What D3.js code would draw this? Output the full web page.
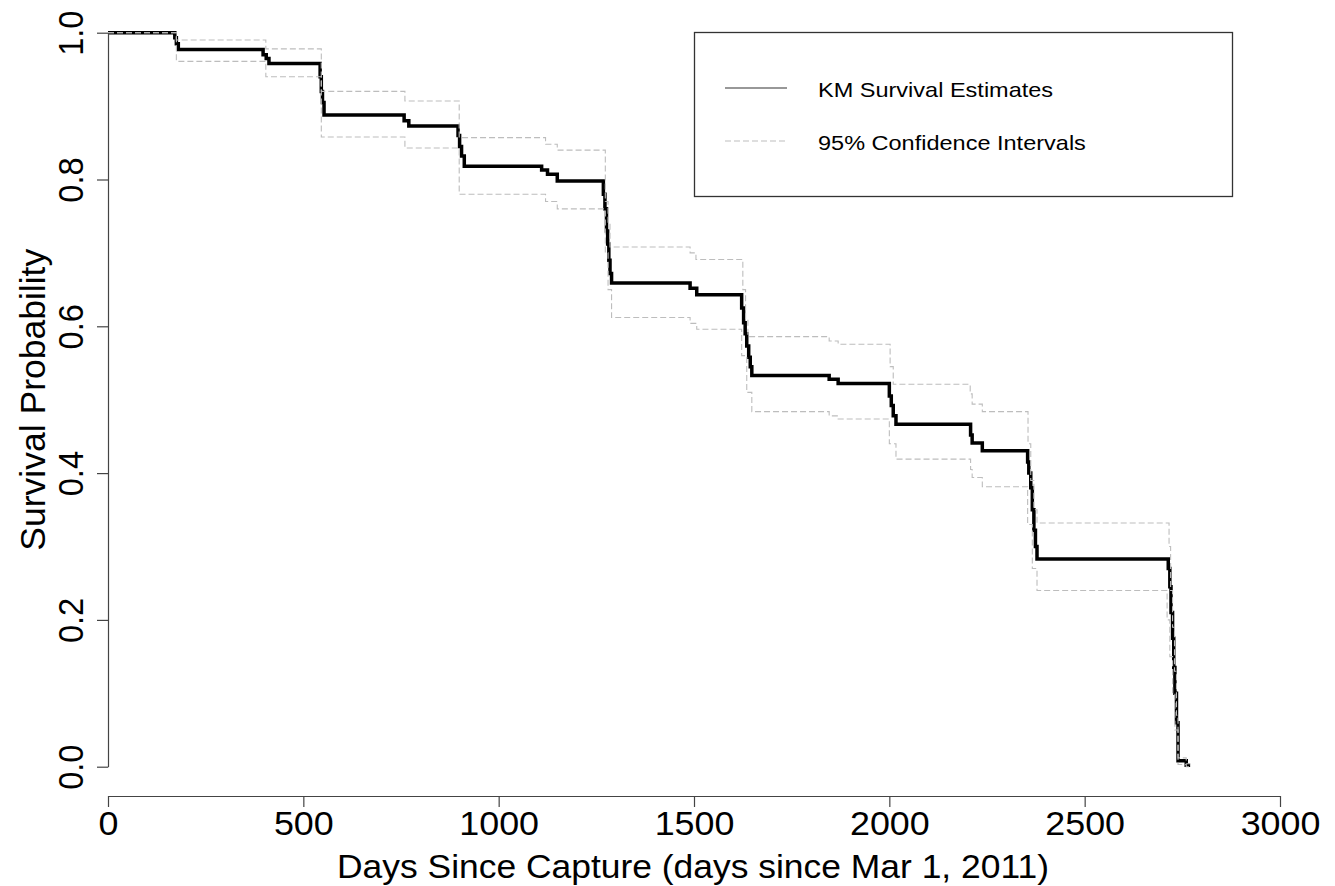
<!DOCTYPE html>
<html lang="en">
<head>
<meta charset="utf-8">
<title>KM Survival Estimates</title>
<style>
  body { margin: 0; background: #fff; }
  text { font-family: Arial, "Liberation Sans", sans-serif; fill: #000; }
</style>
</head>
<body>
<div id="chart"></div>
<script src="https://d3js.org/d3.v7.min.js"></script>
<script>
// Kaplan-Meier estimate: event times (days) and survival after each one
var kmTime = [0, 171, 175, 180, 397, 405, 412, 543, 546, 549, 553, 758, 770,
  896, 900, 905, 912, 1110, 1125, 1150,
  1268, 1272, 1276, 1279, 1282, 1285, 1289, 1490, 1507,
  1622, 1627, 1631, 1635, 1640, 1644, 1648, 1846, 1869,
  2000, 2005, 2010, 2017, 2208, 2212, 2238,
  2354, 2357, 2362, 2366, 2370, 2374, 2378,
  2714, 2718, 2721, 2725, 2728, 2731, 2735, 2739, 2760];
var kmSurv = [1.0, 0.993, 0.985, 0.977, 0.970, 0.965, 0.958, 0.940, 0.920, 0.905, 0.888, 0.880, 0.873,
  0.860, 0.845, 0.832, 0.818, 0.813, 0.807, 0.798,
  0.780, 0.760, 0.730, 0.712, 0.690, 0.672, 0.659, 0.652, 0.643,
  0.625, 0.605, 0.590, 0.573, 0.558, 0.545, 0.533, 0.528, 0.522,
  0.505, 0.492, 0.478, 0.4665, 0.452, 0.441, 0.4305,
  0.415, 0.400, 0.380, 0.350, 0.322, 0.300, 0.283,
  0.270, 0.245, 0.210, 0.175, 0.135, 0.100, 0.060, 0.008, 0.002];

// upper 95% confidence bound
var upperTime = [0, 175, 404, 546, 760, 899, 1120, 1150, 1273, 1280, 1285, 1490, 1505,
  1625, 1632, 1638, 1846, 1869, 2002, 2010, 2207, 2212, 2238,
  2355, 2362, 2370, 2378, 2716, 2720, 2725, 2730, 2735, 2739, 2760];
var upperSurv = [1.0, 0.990, 0.978, 0.920, 0.907, 0.857, 0.848, 0.840, 0.770, 0.740, 0.708, 0.700, 0.691,
  0.650, 0.610, 0.586, 0.580, 0.5755, 0.545, 0.521, 0.508, 0.494, 0.4837,
  0.440, 0.390, 0.350, 0.332, 0.300, 0.240, 0.190, 0.130, 0.070, 0.012, 0.004];

// lower 95% confidence bound
var lowerTime = [0, 175, 404, 546, 760, 899, 1120, 1150, 1273, 1280, 1289, 1490, 1507,
  1622, 1635, 1648, 1846, 1869, 2000, 2017, 2208, 2212, 2238,
  2354, 2366, 2378, 2711, 2718, 2725, 2731, 2739, 2760];
var lowerSurv = [1.0, 0.961, 0.940, 0.858, 0.843, 0.780, 0.770, 0.760, 0.700, 0.650, 0.612, 0.604, 0.596,
  0.560, 0.510, 0.4837, 0.478, 0.4737, 0.440, 0.419, 0.405, 0.394, 0.3815,
  0.330, 0.270, 0.240, 0.200, 0.150, 0.100, 0.050, 0.003, 0.0];

var lastTime = 2770;
var xTicks = [0, 500, 1000, 1500, 2000, 2500, 3000];
var yTicks = [0.0, 0.2, 0.4, 0.6, 0.8, 1.0];
var legendLabels = ['KM Survival Estimates', '95% Confidence Intervals'];

var width = 1335, height = 886;
var stretch = 1.1; // the original picture is a bit wider than tall

var x = d3.scaleLinear().domain([0, 3000]).range([108, 1280]);
var y = d3.scaleLinear().domain([0, 1]).range([766.7, 32.7]);

var svg = d3.select('#chart').append('svg')
  .attr('width', width)
  .attr('height', height);

function steps(t, s) {
  var pts = t.map(function(d, i) { return [d, s[i]]; });
  pts.push([lastTime, s[s.length - 1]]);
  return pts;
}

var line = d3.line()
  .x(function(d) { return x(d[0]); })
  .y(function(d) { return y(d[1]); })
  .curve(d3.curveStepAfter);

// KM curve
svg.append('path')
  .datum(steps(kmTime, kmSurv))
  .attr('d', line)
  .attr('fill', 'none')
  .attr('stroke', '#000')
  .attr('stroke-width', 3.5);

// confidence bounds drawn on top
[steps(upperTime, upperSurv), steps(lowerTime, lowerSurv)].forEach(function(pts) {
  svg.append('path')
    .datum(pts)
    .attr('d', line)
    .attr('fill', 'none')
    .attr('stroke', '#bdbdbd')
    .attr('stroke-width', 1.1)
    .attr('stroke-dasharray', '6,3');
});

// x axis
var xAxis = svg.append('g')
  .attr('transform', 'translate(0,796)')
  .call(d3.axisBottom(x).tickValues(xTicks).tickSize(11).tickSizeOuter(0).tickFormat(d3.format('d')));
xAxis.select('.domain').attr('stroke', '#444').attr('stroke-width', 1.2);
xAxis.selectAll('.tick line').attr('stroke', '#444').attr('stroke-width', 1.2);
xAxis.selectAll('.tick text')
  .attr('y', 0).attr('dy', null)
  .attr('transform', 'translate(0,38.5) scale(' + stretch + ',1)')
  .style('font-size', '32.6px')
  .style('font-family', 'Arial, "Liberation Sans", sans-serif')
  .attr('fill', '#000');

// y axis
var yAxis = svg.append('g')
  .attr('transform', 'translate(108,0)')
  .call(d3.axisLeft(y).tickValues(yTicks).tickSize(11).tickSizeOuter(0).tickFormat(d3.format('.1f')));
yAxis.select('.domain').attr('stroke', '#444').attr('stroke-width', 1.2);
yAxis.selectAll('.tick line').attr('stroke', '#444').attr('stroke-width', 1.2);
yAxis.selectAll('.tick text')
  .attr('x', null).attr('dy', null)
  .attr('transform', 'translate(-25,0) scale(' + stretch + ',1) rotate(-90)')
  .attr('text-anchor', 'middle')
  .style('font-size', '32.6px')
  .style('font-family', 'Arial, "Liberation Sans", sans-serif')
  .attr('fill', '#000');

// axis titles
svg.append('text')
  .attr('transform', 'translate(' + (x(1500) - 1) + ',877.7) scale(1.087,1)')
  .attr('text-anchor', 'middle')
  .style('font-size', '32.6px')
  .text('Days Since Capture (days since Mar 1, 2011)');

svg.append('text')
  .attr('transform', 'translate(45,' + y(0.5) + ') rotate(-90)')
  .attr('text-anchor', 'middle')
  .style('font-size', '35.5px')
  .text('Survival Probability');

// legend
var legend = svg.append('g');
legend.append('rect')
  .attr('x', 694.5).attr('y', 32.5)
  .attr('width', 538).attr('height', 164)
  .attr('fill', 'none')
  .attr('stroke', '#333')
  .attr('stroke-width', 1.3);

var legendY = [88, 141];
legendLabels.forEach(function(lbl, i) {
  legend.append('line')
    .attr('x1', 725).attr('x2', 787)
    .attr('y1', legendY[i]).attr('y2', legendY[i])
    .attr('stroke', i === 0 ? '#333' : '#bdbdbd')
    .attr('stroke-width', 1.1)
    .attr('stroke-dasharray', i === 0 ? null : '6,3');
  legend.append('text')
    .attr('transform', 'translate(818,' + (legendY[i] + 9.2) + ') scale(1.12,1)')
    .style('font-size', '21px')
    .text(lbl);
});
</script>
</body>
</html>
